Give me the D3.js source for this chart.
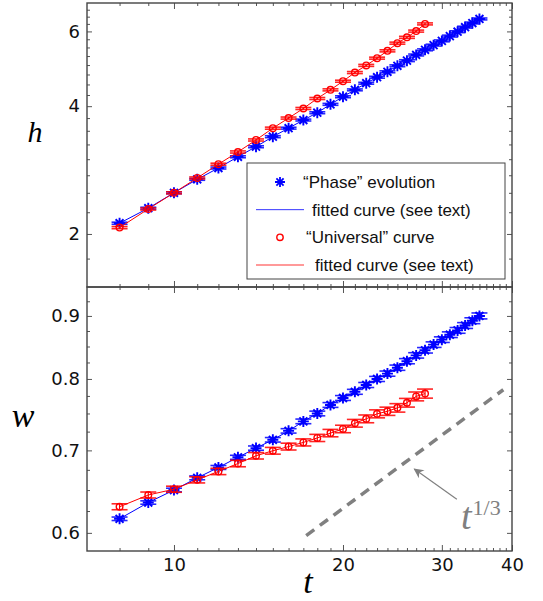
<!DOCTYPE html>
<html lang="en">
<head>
<meta charset="UTF-8">
<script src="https://d3js.org/d3.v7.min.js"></script>
<style>
  body { margin: 0; background: #fff; }
  svg { display: block; font-family: 'DejaVu Sans', sans-serif; }
  .tick text { font-size: 18px; fill: #111; font-family: 'DejaVu Sans', sans-serif; }
  .tick line { stroke: #555; }
  .legend text { font-family: 'Liberation Sans', Arial, sans-serif; font-size: 17px; fill: #111; }
  .math { font-family: 'Liberation Serif', 'DejaVu Serif', serif; font-style: italic; }
</style>
</head>
<body>
<div id="chart"></div>
<script>
// "Phase" evolution (blue stars)
const tPhase = [8, 9, 10, 11, 12, 13, 14, 15, 16, 17, 18, 19, 20, 21, 22, 23, 24, 25, 26, 27, 28, 29, 30, 31, 32, 33, 34, 35];
const hPhase = [2.12, 2.30, 2.50, 2.69, 2.86, 3.04, 3.21, 3.39, 3.55, 3.71, 3.86, 4.04, 4.21, 4.37, 4.53, 4.68, 4.82, 4.98, 5.12, 5.28, 5.43, 5.57, 5.70, 5.85, 5.99, 6.14, 6.28, 6.42];
const hPhaseErr = [0.012, 0.012, 0.013, 0.014, 0.015, 0.016, 0.017, 0.018, 0.018, 0.019, 0.02, 0.021, 0.022, 0.022, 0.023, 0.024, 0.025, 0.025, 0.026, 0.027, 0.028, 0.028, 0.029, 0.03, 0.03, 0.031, 0.032, 0.033];
const wPhase = [0.616, 0.635, 0.650, 0.665, 0.678, 0.691, 0.703, 0.714, 0.726, 0.739, 0.750, 0.762, 0.772, 0.781, 0.791, 0.800, 0.808, 0.817, 0.827, 0.836, 0.844, 0.853, 0.861, 0.869, 0.876, 0.884, 0.892, 0.900];
const wPhaseErr = [0.002, 0.002, 0.0022, 0.0024, 0.0025, 0.0026, 0.0028, 0.003, 0.003, 0.0032, 0.0033, 0.0034, 0.0035, 0.0036, 0.0037, 0.0038, 0.0039, 0.004, 0.004, 0.0042, 0.0043, 0.0044, 0.0045, 0.0046, 0.0047, 0.0048, 0.0049, 0.005];

// "Universal" curve (red circles)
const tUniv = [8, 9, 10, 11, 12, 13, 14, 15, 16, 17, 18, 19, 20, 21, 22, 23, 24, 25, 26, 27, 28];
const hUniv = [2.07, 2.29, 2.50, 2.71, 2.92, 3.12, 3.33, 3.55, 3.75, 3.95, 4.17, 4.37, 4.58, 4.80, 4.99, 5.19, 5.40, 5.63, 5.81, 6.01, 6.25];
const hUnivErr = [0.012, 0.013, 0.014, 0.015, 0.016, 0.018, 0.019, 0.02, 0.021, 0.022, 0.023, 0.024, 0.025, 0.026, 0.027, 0.028, 0.03, 0.031, 0.032, 0.033, 0.034];
const wUniv = [0.630, 0.644, 0.651, 0.6625, 0.673, 0.683, 0.693, 0.6995, 0.705, 0.7105, 0.7165, 0.723, 0.7286, 0.7364, 0.7425, 0.7495, 0.7531, 0.7579, 0.7652, 0.7743, 0.7784];
const wUnivErr = [0.0035, 0.0036, 0.0037, 0.0038, 0.004, 0.0041, 0.0042, 0.0044, 0.0045, 0.0047, 0.0048, 0.005, 0.0051, 0.0053, 0.0054, 0.0056, 0.0058, 0.006, 0.0062, 0.0064, 0.0066];

// t^(1/3) guide line and arrow pointing at it
const guideT = [17.2, 38.6];
const guideW = [0.597, 0.784];
const arrowT = [31.9, 26.8];
const arrowW = [0.639, 0.676];

// ticks
const tTicks = [10, 20, 30, 40];
const hTicks = [2, 4, 6];
const wTicks = [0.6, 0.7, 0.8, 0.9];

const W = 543, H = 601;
const pLeft = 87, pRight = 512, pTop = 3, pMid = 287, pBottom = 551;

const svg = d3.select("#chart").append("svg").attr("width", W).attr("height", H);

const x = d3.scaleLog().domain([7, 40]).range([pLeft, pRight]);
const yH = d3.scaleLog().domain([1.5, 7]).range([pMid, pTop]);
const yW = d3.scaleLog().domain([0.58, 0.95]).range([pBottom, pMid]);

const tMinor = d3.range(8, 40).filter(v => !tTicks.includes(v));
const hMinor = d3.range(1.75, 6.8, 0.25).filter(v => !hTicks.some(m => Math.abs(m - v) < 1e-6));
const wMinor = d3.range(0.6, 0.95, 0.025).filter(v => !wTicks.some(m => Math.abs(m - v) < 1e-6));

function tickAxis(g, axisFn, scale, values, size, withLabels, fmt) {
    const ax = axisFn(scale).tickValues(values).tickSize(size).tickPadding(7);
    ax.tickFormat(withLabels ? fmt : () => "");
    g.call(ax);
    g.select(".domain").remove();
    g.selectAll(".tick line").attr("stroke", "#555").attr("stroke-width", 1);
}

function panelAxes(y, yMajor, yMinor, y0, y1, xLabels, fmtY) {
    const g = svg.append("g");
    // left
    let a = g.append("g").attr("transform", `translate(${pLeft},0)`);
    tickAxis(a, d3.axisLeft, y, yMajor, -5, true, fmtY);
    a = g.append("g").attr("transform", `translate(${pLeft},0)`);
    tickAxis(a, d3.axisLeft, y, yMinor, -3, false);
    // right
    a = g.append("g").attr("transform", `translate(${pRight},0)`);
    tickAxis(a, d3.axisRight, y, yMajor, -5, false);
    a = g.append("g").attr("transform", `translate(${pRight},0)`);
    tickAxis(a, d3.axisRight, y, yMinor, -3, false);
    // top edge (ticks pointing down into panel)
    a = g.append("g").attr("transform", `translate(0,${y0})`);
    tickAxis(a, d3.axisTop, x, tTicks, -6, false);
    a = g.append("g").attr("transform", `translate(0,${y0})`);
    tickAxis(a, d3.axisTop, x, tMinor, -3, false);
    // bottom edge (ticks pointing up into panel)
    a = g.append("g").attr("transform", `translate(0,${y1})`);
    tickAxis(a, d3.axisBottom, x, tTicks, -6, xLabels, d3.format("d"));
    a = g.append("g").attr("transform", `translate(0,${y1})`);
    tickAxis(a, d3.axisBottom, x, tMinor, -3, false);
    // frame
    g.append("rect").attr("x", pLeft).attr("y", y0).attr("width", pRight - pLeft).attr("height", y1 - y0)
        .attr("fill", "none").attr("stroke", "#444").attr("stroke-width", 1.4);
}

panelAxes(yH, hTicks, hMinor, pTop, pMid, false, d3.format("d"));
panelAxes(yW, wTicks, wMinor, pMid, pBottom, true, d3.format(".1f"));

const starPath = (r) => {
    const d = r * 0.72;
    return `M${-r},0L${r},0M0,${-r}L0,${r}M${-d},${-d}L${d},${d}M${-d},${d}L${d},${-d}`;
};

function drawSeries(y, ts, vs, es, color, kind) {
    const pts = ts.map((t, i) => ({ t: t, v: vs[i], e: es[i] }));
    const g = svg.append("g");
    g.append("path").datum(pts)
        .attr("d", d3.line().x(d => x(d.t)).y(d => y(d.v)))
        .attr("fill", "none").attr("stroke", color).attr("stroke-width", 1);
    const p = g.selectAll(null).data(pts).join("g")
        .attr("transform", d => `translate(${x(d.t)},0)`);
    p.append("line").attr("x1", 0).attr("x2", 0)
        .attr("y1", d => y(d.v - d.e)).attr("y2", d => y(d.v + d.e))
        .attr("stroke", color).attr("stroke-width", 1.2);
    [-1, 1].forEach(s => {
        p.append("line").attr("x1", -8).attr("x2", 8)
            .attr("y1", d => y(d.v + s * d.e)).attr("y2", d => y(d.v + s * d.e))
            .attr("stroke", color).attr("stroke-width", 1.6).attr("stroke-opacity", 0.85);
    });
    if (kind === "star") {
        p.append("path").attr("transform", d => `translate(0,${y(d.v)})`)
            .attr("d", starPath(5.5)).attr("stroke", color).attr("stroke-width", 1.9).attr("fill", "none");
    } else {
        p.append("circle").attr("cy", d => y(d.v)).attr("r", 3.3)
            .attr("fill", "none").attr("stroke", color).attr("stroke-width", 1.4);
    }
}

drawSeries(yH, tPhase, hPhase, hPhaseErr, "#0000ff", "star");
drawSeries(yH, tUniv, hUniv, hUnivErr, "#ff0000", "circle");
drawSeries(yW, tPhase, wPhase, wPhaseErr, "#0000ff", "star");
drawSeries(yW, tUniv, wUniv, wUnivErr, "#ff0000", "circle");

// guide line t^(1/3)
svg.append("line")
    .attr("x1", x(guideT[0])).attr("y1", yW(guideW[0]))
    .attr("x2", x(guideT[1])).attr("y2", yW(guideW[1]))
    .attr("stroke", "#808080").attr("stroke-width", 3.5).attr("stroke-dasharray", "10,7");

// arrow + label
svg.append("defs").append("marker").attr("id", "arr")
    .attr("viewBox", "0 0 10 10").attr("refX", 9).attr("refY", 5)
    .attr("markerWidth", 13).attr("markerHeight", 10).attr("markerUnits", "userSpaceOnUse")
    .attr("orient", "auto")
    .append("path").attr("d", "M0,0L10,5L0,10L3,5Z").attr("fill", "#808080");
svg.append("line")
    .attr("x1", x(arrowT[0])).attr("y1", yW(arrowW[0]))
    .attr("x2", x(arrowT[1])).attr("y2", yW(arrowW[1]))
    .attr("stroke", "#808080").attr("stroke-width", 1.2).attr("marker-end", "url(#arr)");
const lab = svg.append("text").attr("class", "math").attr("x", 461).attr("y", 529)
    .attr("fill", "#808080").attr("font-size", 38);
lab.append("tspan").text("t");
lab.append("tspan").attr("font-style", "normal").attr("font-family", "'Liberation Serif', serif")
    .attr("font-size", 22).attr("dy", -14).attr("dx", 1).text("1/3");

// axis titles
svg.append("text").attr("class", "math").attr("x", 35).attr("y", 142)
    .attr("text-anchor", "middle").attr("font-size", 30).text("h");
svg.append("text").attr("class", "math").attr("x", 23).attr("y", 427)
    .attr("text-anchor", "middle").attr("font-size", 34).text("w");
svg.append("text").attr("class", "math").attr("x", 308).attr("y", 593)
    .attr("text-anchor", "middle").attr("font-size", 34).text("t");

// legend
const lg = svg.append("g").attr("class", "legend");
lg.append("rect").attr("x", 247).attr("y", 163).attr("width", 258).attr("height", 116)
    .attr("fill", "#fff").attr("stroke", "#444").attr("stroke-width", 1);
const legendItems = [
    { label: "\u201cPhase\u201d evolution", color: "#0000ff", kind: "star", tx: 303 },
    { label: "fitted curve (see text)", color: "#0000ff", kind: "line", tx: 312 },
    { label: "\u201cUniversal\u201d curve", color: "#ff0000", kind: "circle", tx: 306 },
    { label: "fitted curve (see text)", color: "#ff0000", kind: "line", tx: 315 }
];
const rowY = d3.scalePoint().domain(d3.range(legendItems.length)).range([182, 265]);
legendItems.forEach((it, i) => {
    const yy = rowY(i);
    if (it.kind === "star") {
        lg.append("path").attr("transform", `translate(280,${yy})`).attr("d", starPath(5))
            .attr("stroke", it.color).attr("stroke-width", 1.8).attr("fill", "none");
    } else if (it.kind === "circle") {
        lg.append("circle").attr("cx", 280).attr("cy", yy).attr("r", 3.2)
            .attr("fill", "none").attr("stroke", it.color).attr("stroke-width", 1.4);
    } else {
        lg.append("line").attr("x1", 256).attr("x2", 304).attr("y1", yy).attr("y2", yy)
            .attr("stroke", it.color).attr("stroke-width", 1).attr("stroke-opacity", 0.8);
    }
    lg.append("text").attr("x", it.tx).attr("y", yy).attr("dy", "0.35em").text(it.label);
});
</script>
</body>
</html>
